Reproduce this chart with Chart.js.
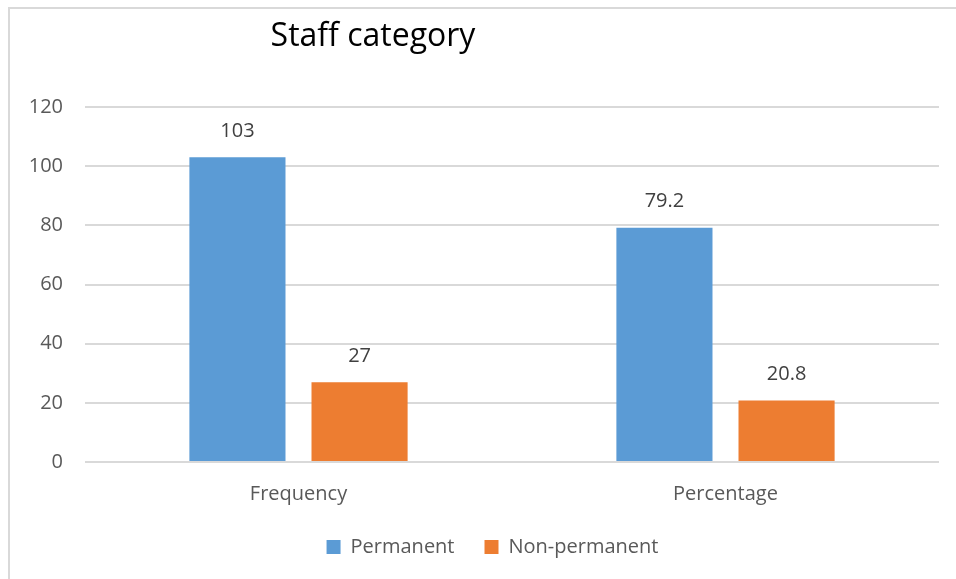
<!DOCTYPE html>
<html>
<head>
<meta charset="utf-8">
<script src="https://cdn.jsdelivr.net/npm/chart.js@4"></script>
<style>
  body { margin: 0; background: #fff; }
  #wrap { position: relative; width: 956px; height: 579px; }
  #frame { position: absolute; left: 8px; top: 7px; width: 960px; height: 600px; border-left: 2px solid #d9d9d9; border-top: 2px solid #d9d9d9; }
  canvas { position: absolute; left: 0; top: 0; }
</style>
</head>
<body>
<div id="wrap">
  <div id="frame"></div>
  <canvas id="chart1" width="956" height="579"></canvas>
</div>
<script>
const categories = ['Frequency', 'Percentage'];
const permanent = [103, 79.2];
const nonPermanent = [27, 20.8];
const yTicks = [0, 20, 40, 60, 80, 100, 120];

const fontName = '"Open Sans", Lato, sans-serif';

// etiquetas de valor encima de cada barra
const valueLabels = {
    id: 'valueLabels',
    afterDatasetsDraw(chart) {
        const ctx = chart.ctx;
        ctx.save();
        ctx.fillStyle = '#404040';
        ctx.font = '20px ' + fontName;
        ctx.textAlign = 'center';
        ctx.textBaseline = 'middle';
        chart.data.datasets.forEach((ds, i) => {
            chart.getDatasetMeta(i).data.forEach((bar, j) => {
                ctx.fillText(ds.data[j], bar.x, bar.y - 26);
            });
        });
        ctx.restore();
    }
};

// titulo, desplazado a la izquierda como en el original
const titlePlugin = {
    id: 'titlePlugin',
    afterLayout(chart) {
        // la leyenda del original esta un poco a la derecha
        chart.legend.left += 23;
        chart.legend.right += 23;
    },
    afterDraw(chart) {
        const ctx = chart.ctx;
        ctx.save();
        ctx.fillStyle = '#000';
        ctx.font = '32px ' + fontName;
        ctx.textAlign = 'center';
        ctx.textBaseline = 'middle';
        ctx.fillText('Staff category', 373, 37);
        ctx.restore();
    }
};

const ctx1 = document.getElementById('chart1').getContext('2d');
new Chart(ctx1, {
    type: 'bar',
    data: {
        labels: categories,
        datasets: [{
            label: 'Permanent',
            data: permanent,
            backgroundColor: '#5b9bd5'
        }, {
            label: 'Non-permanent',
            data: nonPermanent,
            backgroundColor: '#ed7d31'
        }]
    },
    options: {
        responsive: false,
        animation: false,
        categoryPercentage: 0.572,
        barPercentage: 0.787,
        layout: { padding: { left: 0, right: 17, top: 107, bottom: 12 } },
        plugins: {
            legend: {
                position: 'bottom',
                labels: {
                    color: '#595959',
                    font: { family: fontName, size: 20 },
                    boxWidth: 14,
                    boxHeight: 14,
                    padding: 30
                }
            },
            tooltip: { enabled: false }
        },
        scales: {
            x: {
                grid: { display: false },
                border: { display: false },
                ticks: { color: '#595959', font: { family: fontName, size: 20 }, padding: 12 },
                afterFit: (scale) => { scale.height = 45; }
            },
            y: {
                min: 0,
                max: 120,
                afterBuildTicks: (scale) => { scale.ticks = yTicks.map(v => ({ value: v })); },
                grid: { color: '#d9d9d9', lineWidth: 2, drawTicks: false },
                border: { display: false },
                ticks: { color: '#595959', font: { family: fontName, size: 20 }, padding: 22 },
                afterFit: (scale) => { scale.width = 85; }
            }
        }
    },
    plugins: [valueLabels, titlePlugin]
});
</script>
</body>
</html>
